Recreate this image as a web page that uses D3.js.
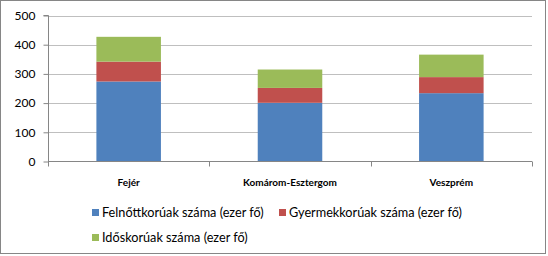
<!DOCTYPE html>
<html>
<head>
<meta charset="utf-8">
<script src="https://cdn.jsdelivr.net/npm/d3@7"></script>
<style>
body{margin:0;background:#fff;}
text{font-family:Lato, "Open Sans", sans-serif;}
</style>
</head>
<body>
<div id="chart"></div>
<script>
var counties = ["Fejér", "Komárom-Esztergom", "Veszprém"];
var seriesNames = ["Felnőttkorúak száma (ezer fő)", "Gyermekkorúak száma (ezer fő)", "Időskorúak száma (ezer fő)"];
var adults = [274, 201, 234];
var children = [68, 51, 55];
var elderly = [85, 63, 77];
var yTicks = [0, 100, 200, 300, 400, 500];
var colors = ["#4f81bd", "#c0504d", "#9bbb59"];

var width = 548, height = 256;
var margin = {top:15, right:16, bottom:95, left:48};

var svg = d3.select("#chart").append("svg")
	.attr("width", width)
	.attr("height", height);

// outer frame
svg.append("rect")
	.attr("x", 0.5).attr("y", 0.5)
	.attr("width", 545).attr("height", 253)
	.attr("fill", "#fff")
	.attr("stroke", "#868686");

var x = d3.scaleBand()
	.domain(counties)
	.range([margin.left, width - margin.right])
	.paddingInner(0.6)
	.paddingOuter(0.3);
var y = d3.scaleLinear()
	.domain([0, 500])
	.range([161.5, 15.5]);

// gridlines
svg.append("g")
	.selectAll("line")
	.data(yTicks.slice(1))
	.join("line")
	.attr("x1", margin.left).attr("x2", width - margin.right)
	.attr("y1", d => Math.round(y(d)) + 0.5).attr("y2", d => Math.round(y(d)) + 0.5)
	.attr("stroke", "#bfbfbf");

// stacked data
var table = counties.map(function(c, i){
	return {county:c, a:adults[i], b:children[i], c:elderly[i]};
});
var stack = d3.stack().keys(["a", "b", "c"])(table);

svg.append("g")
	.selectAll("g")
	.data(stack)
	.join("g")
	.attr("fill", (d, i) => colors[i])
	.selectAll("rect")
	.data(d => d)
	.join("rect")
	.attr("x", d => x(d.data.county))
	.attr("width", x.bandwidth())
	.attr("y", d => y(d[1]))
	.attr("height", d => y(d[0]) - y(d[1]));

// y axis
var yaxis = d3.axisLeft(y).tickValues(yTicks).tickSize(5).tickPadding(8);
var gy = svg.append("g")
	.attr("transform", "translate(" + (margin.left + 0.5) + ",0)")
	.call(yaxis);
gy.select(".domain").attr("stroke", "#868686").attr("d", "M-5," + y(500) + "H0V" + y(0));
gy.selectAll(".tick line").attr("stroke", "#868686");
gy.selectAll(".tick text").attr("font-family", "Lato").attr("font-size", 12).attr("fill", "#000");

// x axis with ticks at category boundaries
var gx = svg.append("g").attr("transform", "translate(0," + (y(0)) + ")");
gx.append("line")
	.attr("x1", margin.left).attr("x2", width - margin.right)
	.attr("stroke", "#868686");
var bounds = [margin.left].concat(counties.map(c => x(c) + x.bandwidth() + x.step() * 0.3));
gx.selectAll(".xt")
	.data(bounds)
	.join("line")
	.attr("class", "xt")
	.attr("x1", d => Math.round(d) + 0.5).attr("x2", d => Math.round(d) + 0.5)
	.attr("y1", 0).attr("y2", 5)
	.attr("stroke", "#868686");
gx.selectAll(".xl")
	.data(counties)
	.join("text")
	.attr("class", "xl")
	.attr("x", d => x(d) + x.bandwidth() / 2)
	.attr("y", 24)
	.attr("text-anchor", "middle")
	.attr("font-size", 10)
	.attr("font-weight", "bold")
	.text(d => d);

// legend
var legendPos = [[92, 209], [279, 209], [92, 234]];
var legend = svg.append("g")
	.selectAll("g")
	.data(seriesNames)
	.join("g")
	.attr("transform", (d, i) => "translate(" + legendPos[i][0] + "," + legendPos[i][1] + ")");
legend.append("rect")
	.attr("width", 7).attr("height", 7)
	.attr("fill", (d, i) => colors[i]);
legend.append("text")
	.attr("x", 10)
	.attr("y", 7.5)
	.attr("font-size", 12.7)
	.text(d => d);
</script>
</body>
</html>
